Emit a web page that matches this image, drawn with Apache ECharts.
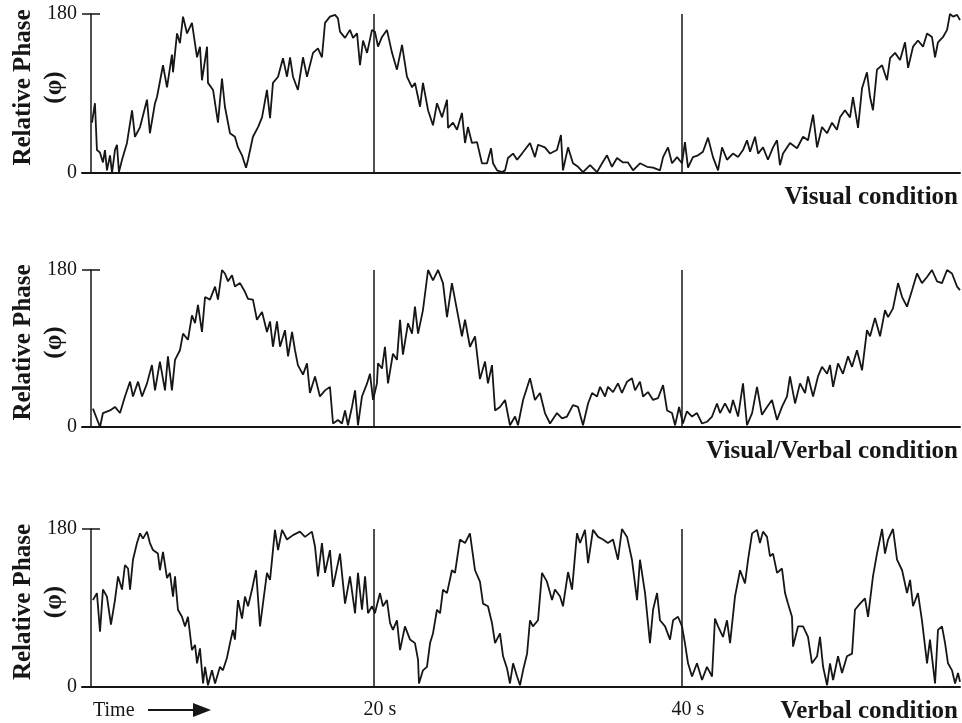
<!DOCTYPE html>
<html><head><meta charset="utf-8">
<script src="https://cdn.jsdelivr.net/npm/echarts@6/dist/echarts.min.js"></script>
<style>html,body{margin:0;padding:0;background:#fff}#c{width:962px;height:723px}</style>
</head><body><div id="c"></div>
<script>
// ---- Data (time in seconds, relative phase in degrees) ----
const visualTime = [
1.69,1.88,2.01,2.21,2.40,2.53,2.66,2.86,2.99,3.18,
3.31,3.44,3.64,3.96,4.29,4.48,4.81,5.26,5.45,5.78,
5.91,6.30,6.56,6.88,6.95,7.21,7.40,7.60,7.86,8.18,
8.51,8.70,8.83,9.16,9.22,9.55,9.87,10.13,10.32,10.65,
10.97,11.17,11.43,11.69,11.82,12.14,12.47,12.73,13.05,13.25,
13.44,13.77,14.09,14.35,14.55,14.74,15.06,15.39,15.65,16.04,
16.36,16.62,16.82,17.14,17.47,17.66,17.79,18.12,18.44,18.64,
18.90,19.09,19.29,19.55,19.87,20.06,20.26,20.52,20.84,21.17,
21.49,21.82,22.14,22.47,22.66,22.99,23.18,23.51,23.83,24.09,
24.42,24.74,24.81,25.13,25.39,25.71,25.91,26.10,26.36,26.69,
27.01,27.34,27.60,27.73,27.99,28.31,28.51,28.70,29.03,29.29,
29.61,30.13,30.45,30.65,31.10,31.43,31.88,32.14,32.27,32.60,
32.92,33.25,33.57,34.03,34.48,34.81,35.13,35.45,35.78,36.17,
36.49,36.82,37.27,37.73,38.12,38.57,38.77,39.09,39.35,39.68,
40.00,40.19,40.39,40.71,41.04,41.36,41.69,42.01,42.34,42.60,
42.92,43.31,43.64,43.96,44.22,44.42,44.74,44.94,45.26,45.58,
45.91,46.17,46.36,46.56,47.01,47.47,47.86,48.18,48.51,48.77,
49.09,49.42,49.74,50.06,50.26,50.58,50.91,51.10,51.43,51.69,
52.01,52.21,52.40,52.66,52.99,53.31,53.51,53.83,54.16,54.48,
54.68,55.00,55.32,55.65,55.91,56.23,56.43,56.62,56.95,57.21,
57.40,57.60,57.86,58.05];
const visualPhase = [
57,79,26,23,12,26,3,20,0,26,
32,1,15,34,71,41,52,83,45,79,
86,122,97,134,114,158,147,177,158,170,
131,143,105,143,102,94,57,107,75,45,
41,29,20,6,15,41,52,63,94,62,
102,109,130,109,131,109,94,131,109,136,
141,131,170,177,179,175,160,153,162,153,
158,122,150,136,162,160,143,154,162,136,
117,145,109,97,102,75,102,71,54,79,
63,83,51,57,49,68,34,52,34,35,
11,11,28,11,3,1,3,17,22,15,
22,34,18,32,29,22,26,43,3,29,
11,7,1,9,1,11,20,7,17,12,
12,3,11,7,6,3,18,29,11,18,
11,35,6,18,20,24,40,18,3,29,
15,22,18,26,37,24,41,22,29,15,
29,37,9,22,34,28,41,37,66,29,
52,45,57,49,63,71,63,86,51,96,
114,86,71,117,122,105,130,136,128,148,
119,143,150,143,158,154,131,148,154,162,
180,177,179,173];

const visualVerbalTime = [
1.75,2.21,2.40,2.86,3.18,3.51,3.83,4.16,4.35,4.68,
4.94,5.26,5.58,5.78,6.10,6.43,6.62,6.88,7.08,7.40,
7.60,7.92,8.18,8.38,8.57,8.83,9.03,9.35,9.68,9.87,
10.13,10.32,10.52,10.78,10.97,11.30,11.62,11.82,12.14,12.40,
12.73,13.05,13.25,13.44,13.70,13.90,14.22,14.42,14.68,14.87,
15.06,15.39,15.65,15.84,16.17,16.49,16.82,17.14,17.34,17.66,
17.92,18.12,18.31,18.57,18.77,18.96,19.22,19.55,19.74,19.94,
20.19,20.26,20.52,20.71,20.91,21.23,21.49,21.69,21.88,22.21,
22.47,22.66,22.86,23.18,23.51,23.83,24.16,24.48,24.74,25.06,
25.39,25.71,25.91,26.23,26.56,26.88,27.21,27.40,27.66,27.86,
28.18,28.51,28.83,29.16,29.35,29.68,30.13,30.45,30.78,31.10,
31.43,31.88,32.21,32.53,32.92,33.25,33.57,33.90,34.16,34.48,
34.68,35.00,35.19,35.52,35.84,36.10,36.43,36.75,36.95,37.27,
37.47,37.79,38.12,38.44,38.77,39.03,39.35,39.55,39.81,40.06,
40.32,40.65,40.97,41.30,41.62,41.95,42.27,42.47,42.79,43.12,
43.31,43.64,43.96,44.22,44.55,44.87,45.19,45.52,45.84,46.17,
46.49,46.82,47.01,47.34,47.66,47.99,48.18,48.51,48.83,49.09,
49.42,49.61,49.81,50.13,50.45,50.78,51.04,51.36,51.69,52.01,
52.21,52.53,52.86,53.18,53.38,53.70,54.03,54.29,54.61,54.94,
55.26,55.58,55.91,56.23,56.56,56.88,57.21,57.53,57.86,58.05];
const visualVerbalPhase = [
21,0,16,19,23,16,35,52,35,52,
35,50,71,42,75,42,81,42,77,88,
107,100,128,119,140,109,149,146,161,146,
180,176,167,174,161,165,155,147,146,123,
132,109,121,92,121,92,111,81,109,88,
71,60,73,39,58,35,42,46,4,8,
4,19,2,23,42,2,35,50,61,31,
50,73,67,92,50,84,77,123,83,119,
107,138,107,134,180,168,180,165,126,165,
134,104,123,92,104,55,75,50,71,19,
23,31,2,12,2,31,56,31,39,16,
4,16,10,12,25,23,2,27,39,35,
46,35,46,40,50,39,52,56,42,52,
35,40,31,33,48,19,16,2,23,4,
18,12,16,4,6,12,27,16,27,16,
31,12,50,2,16,46,14,23,31,8,
23,35,58,27,50,39,58,35,58,69,
61,71,46,73,61,81,69,88,65,111,
104,125,104,134,126,136,165,149,138,157,
176,165,172,180,167,165,180,176,161,157];

const verbalTime = [
1.75,2.01,2.21,2.40,2.66,2.92,3.18,3.38,3.64,3.83,
4.03,4.16,4.35,4.61,4.81,5.00,5.26,5.45,5.65,5.97,
6.10,6.30,6.56,6.75,6.95,7.08,7.27,7.53,7.73,7.92,
8.18,8.38,8.51,8.70,8.90,9.03,9.22,9.48,9.68,10.00,
10.19,10.45,10.65,10.84,10.97,11.17,11.43,11.62,11.82,12.08,
12.34,12.60,12.79,13.05,13.25,13.57,13.77,14.03,14.35,14.74,
15.19,15.52,15.97,16.17,16.36,16.62,16.82,17.14,17.34,17.79,
18.12,18.44,18.77,18.96,19.22,19.42,19.61,19.87,20.06,20.39,
20.58,20.84,21.04,21.23,21.49,21.69,22.01,22.34,22.66,22.86,
22.92,23.18,23.44,23.64,23.83,24.09,24.29,24.48,24.74,25.06,
25.26,25.58,25.91,26.23,26.56,26.88,27.08,27.40,27.66,27.86,
28.18,28.38,28.64,28.83,29.03,29.29,29.48,29.68,29.94,30.13,
30.32,30.65,30.91,31.23,31.56,31.75,32.08,32.27,32.60,32.86,
33.18,33.38,33.70,33.90,34.22,34.55,34.87,35.19,35.52,35.84,
36.10,36.43,36.75,37.08,37.27,37.60,37.92,38.12,38.38,38.57,
38.90,39.22,39.42,39.74,40.00,40.19,40.39,40.65,40.97,41.30,
41.62,41.95,42.14,42.34,42.66,42.92,43.12,43.44,43.77,44.09,
44.29,44.55,44.87,45.06,45.26,45.52,45.71,45.91,46.17,46.49,
46.69,46.88,47.14,47.21,47.53,47.86,48.18,48.44,48.77,48.96,
49.16,49.42,49.61,49.81,50.13,50.39,50.71,51.04,51.23,51.56,
51.88,52.08,52.40,52.66,52.99,53.18,53.38,53.70,53.96,54.29,
54.61,54.81,55.00,55.32,55.58,55.91,56.10,56.43,56.62,56.88,
57.08,57.27,57.53,57.73,57.92,58.05];
const verbalPhase = [
99,107,63,111,103,71,99,126,111,139,
135,111,145,164,175,169,177,164,156,152,
133,154,124,130,103,126,88,80,69,80,
42,48,27,44,4,23,2,19,4,23,
19,33,50,65,54,99,78,103,92,111,
133,69,95,130,122,179,156,179,168,173,
177,171,177,160,126,164,130,156,114,152,
95,126,84,130,88,126,84,92,84,107,
92,99,73,65,76,42,69,54,50,31,
4,19,23,50,61,88,84,111,107,133,
130,168,164,175,133,120,95,92,73,50,
61,35,21,4,27,12,2,19,38,76,
69,76,130,120,99,111,103,92,131,111,
175,164,179,141,179,171,168,164,168,145,
180,171,145,99,145,107,50,88,107,76,
69,54,76,80,69,50,27,12,27,8,
23,12,78,69,57,76,50,103,133,118,
145,175,179,164,177,171,149,152,130,135,
107,95,80,46,69,69,57,27,35,57,
23,2,27,8,35,16,35,38,88,95,
101,80,126,152,180,152,168,180,145,133,
107,122,92,107,76,27,54,4,65,69,
50,27,19,4,16,6];

const markerTimes = [20, 40];          // vertical reference lines
const timeTickLabels = [20, 40];       // labelled seconds on bottom axis
const phaseRange = [0, 180];           // y-axis range / ticks
const conditionNames = ['Visual condition', 'Visual/Verbal condition', 'Verbal condition'];

// ---- Layout / style ----
const SERIF = '"Liberation Serif","Times New Roman","DejaVu Serif",serif';
const INK = '#161616';
const panelLayout = [
  { top: 14, height: 159, titleTop: 185 },
  { top: 270, height: 157, titleTop: 439 },
  { top: 529, height: 158, titleTop: 699 }
];
const series = [
  [visualTime, visualPhase],
  [visualVerbalTime, visualVerbalPhase],
  [verbalTime, verbalPhase]
];
const zip = (t, v) => t.map((x, i) => [x, v[i]]);

const option = {
  animation: false,
  backgroundColor: '#ffffff',
  title: conditionNames.map((name, i) => ({
    text: name, right: 4, top: panelLayout[i].titleTop, padding: 0,
    textStyle: { fontFamily: SERIF, fontSize: 25, fontWeight: 'bold', color: INK }
  })),
  grid: panelLayout.map(p => ({ left: 82, right: 2, top: p.top, height: p.height, containLabel: false, outerBoundsMode: 'none' })),
  xAxis: panelLayout.map((p, i) => ({
    gridIndex: i, type: 'value', min: 1.04, max: 58.05,
    axisLine: { show: true, lineStyle: { color: INK, width: 2 } },
    axisTick: { show: false }, splitLine: { show: false },
    axisLabel: i === 2 ? {
      show: true, customValues: timeTickLabels, formatter: '{value} s',
      fontFamily: SERIF, fontSize: 20, color: INK, margin: 13, padding: [0, 0, 0, 12]
    } : { show: false }
  })),
  yAxis: panelLayout.flatMap((p, i) => ([
    {
      gridIndex: i, type: 'value', position: 'left', min: phaseRange[0], max: phaseRange[1], interval: 180,
      offset: -9,
      axisLine: { show: true, lineStyle: { color: INK, width: 1.5 } },
      axisTick: { show: false }, splitLine: { show: false },
      axisLabel: { fontFamily: SERIF, fontSize: 20, color: INK, margin: 14, padding: [4, 0, 0, 0] },
      name: 'Relative Phase\n(\u03C6)', nameLocation: 'middle', nameRotate: 90, nameGap: 21,
      nameMoveOverlap: false,
      nameTextStyle: { fontFamily: SERIF, fontSize: 25, fontWeight: 'bold', color: INK, lineHeight: 31, padding: [0, 0, 0, 12] }
    },
    {
      gridIndex: i, type: 'value', position: 'left', min: phaseRange[0], max: phaseRange[1], interval: 180,
      offset: -18,
      axisLine: { show: false },
      axisTick: { show: true, length: 18, lineStyle: { color: INK, width: 1.5 } },
      axisLabel: { show: false }, splitLine: { show: false }
    }
  ])),
  series: series.map(([t, v], i) => ({
    type: 'line', xAxisIndex: i, yAxisIndex: 2 * i,
    data: zip(t, v), symbol: 'none', showSymbol: false,
    lineStyle: { color: INK, width: 1.8 },
    markLine: {
      silent: true, symbol: ['none', 'none'], label: { show: false },
      lineStyle: { color: INK, width: 1.5, type: 'solid' },
      data: markerTimes.map(m => ({ xAxis: m }))
    }
  })),
  graphic: [
    { type: 'text', left: 93, top: 701, style: { text: 'Time', font: '20px ' + SERIF, fill: INK } },
    { type: 'line', shape: { x1: 148, y1: 710, x2: 197, y2: 710 }, style: { stroke: INK, lineWidth: 2 } },
    { type: 'polygon', shape: { points: [[193, 703], [211, 710], [193, 717]] }, style: { fill: INK } }
  ]
};
echarts.init(document.getElementById('c')).setOption(option);
</script></body></html>
